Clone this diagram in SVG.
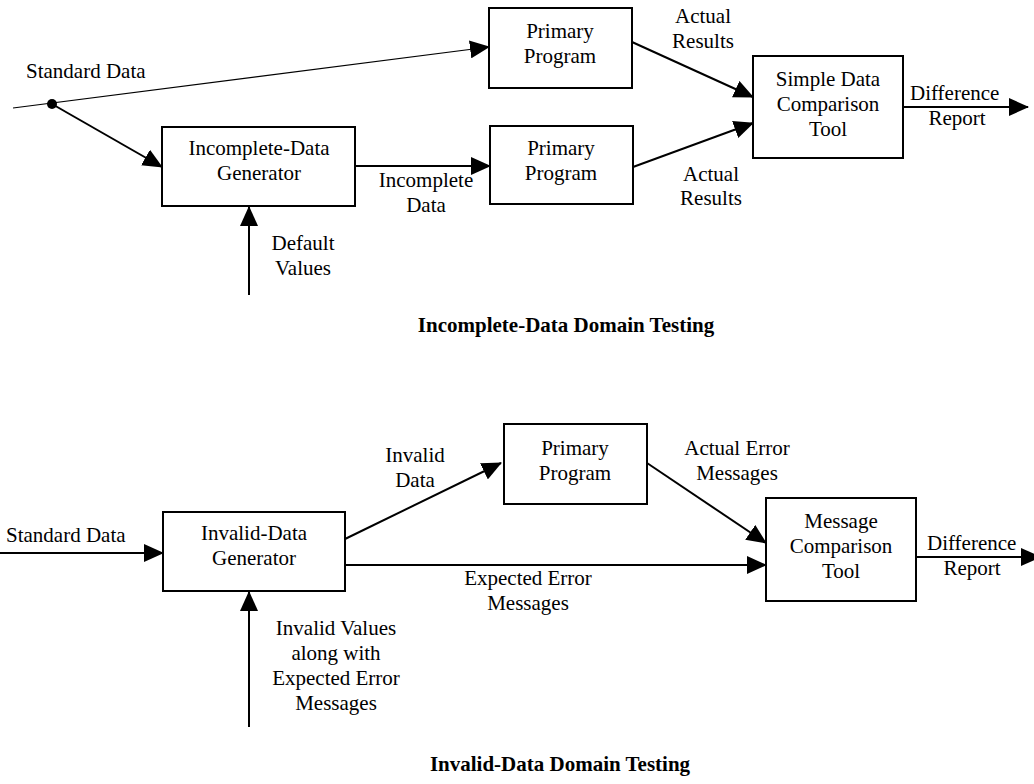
<svg xmlns="http://www.w3.org/2000/svg" width="1034" height="784" viewBox="0 0 1034 784">
  <style>
    .box { fill: #fff; stroke: #000; stroke-width: 2; }
    .lbl { font-family: "Liberation Serif", "Times New Roman", serif; font-size: 21px; fill: #000; }
    .mid { text-anchor: middle; }
    .title { font-family: "Liberation Serif", "Times New Roman", serif; font-size: 21px; font-weight: bold; fill: #000; text-anchor: middle; }
    .wire { fill: none; stroke: #000; stroke-width: 2; }
    .thin { fill: none; stroke: #000; stroke-width: 1.2; }
  </style>
  <defs>
    <marker id="arrow" markerUnits="userSpaceOnUse" markerWidth="20" markerHeight="18" refX="19" refY="9" orient="auto">
      <path d="M0,0 L20,9 L0,18 z" fill="#000"/>
    </marker>
  </defs>
  <rect width="1034" height="784" fill="#fff"/>

  <!-- Incomplete-data domain testing -->
  <g id="connectors-top">
    <line class="thin" x1="13" y1="108" x2="489" y2="47" marker-end="url(#arrow)"/>
    <line class="wire" x1="52" y1="104" x2="162" y2="167" marker-end="url(#arrow)"/>
    <line class="wire" x1="355" y1="166" x2="490" y2="166" marker-end="url(#arrow)"/>
    <line class="wire" x1="249" y1="295" x2="249" y2="207" marker-end="url(#arrow)"/>
    <line class="wire" x1="632" y1="42" x2="753" y2="97" marker-end="url(#arrow)"/>
    <line class="wire" x1="633" y1="167" x2="753" y2="123" marker-end="url(#arrow)"/>
    <line class="wire" x1="903" y1="107" x2="1028" y2="107" marker-end="url(#arrow)"/>
    <circle cx="52" cy="104" r="5" fill="#000"/>
  </g>
  <g id="labels-top">
    <text class="lbl" x="26" y="78">Standard Data</text>
    <text class="lbl mid" x="703" y="23">Actual</text>
    <text class="lbl mid" x="703" y="48">Results</text>
    <text class="lbl mid" x="711" y="181">Actual</text>
    <text class="lbl mid" x="711" y="205">Results</text>
    <text class="lbl mid" x="426" y="187">Incomplete</text>
    <text class="lbl mid" x="426" y="212">Data</text>
    <text class="lbl mid" x="303" y="250">Default</text>
    <text class="lbl mid" x="303" y="275">Values</text>
    <text class="lbl" x="910" y="100">Difference</text>
    <text class="lbl mid" x="957" y="125">Report</text>
  </g>
  <g id="incomplete-data-generator">
    <rect class="box" x="162" y="127" width="193" height="79"/>
    <text class="lbl mid" x="259" y="155">Incomplete-Data</text>
    <text class="lbl mid" x="259" y="180">Generator</text>
  </g>
  <g id="primary-program-1">
    <rect class="box" x="489" y="8" width="143" height="80"/>
    <text class="lbl mid" x="560" y="38">Primary</text>
    <text class="lbl mid" x="560" y="63">Program</text>
  </g>
  <g id="primary-program-2">
    <rect class="box" x="490" y="126" width="143" height="78"/>
    <text class="lbl mid" x="561" y="155">Primary</text>
    <text class="lbl mid" x="561" y="180">Program</text>
  </g>
  <g id="simple-data-comparison-tool">
    <rect class="box" x="753" y="56" width="150" height="102"/>
    <text class="lbl mid" x="828" y="86">Simple Data</text>
    <text class="lbl mid" x="828" y="111">Comparison</text>
    <text class="lbl mid" x="828" y="136">Tool</text>
  </g>
  <text class="title" x="566" y="332">Incomplete-Data Domain Testing</text>

  <!-- Invalid-data domain testing -->
  <g id="connectors-bottom">
    <line class="wire" x1="0" y1="553" x2="163" y2="553" marker-end="url(#arrow)"/>
    <line class="wire" x1="345" y1="539" x2="501" y2="463" marker-end="url(#arrow)"/>
    <line class="wire" x1="345" y1="565" x2="766" y2="565" marker-end="url(#arrow)"/>
    <line class="wire" x1="249" y1="727" x2="249" y2="592" marker-end="url(#arrow)"/>
    <line class="wire" x1="647" y1="463" x2="766" y2="543" marker-end="url(#arrow)"/>
    <line class="wire" x1="916" y1="557" x2="1040" y2="557" marker-end="url(#arrow)"/>
  </g>
  <g id="labels-bottom">
    <text class="lbl" x="6" y="542">Standard Data</text>
    <text class="lbl mid" x="415" y="462">Invalid</text>
    <text class="lbl mid" x="415" y="487">Data</text>
    <text class="lbl mid" x="737" y="455">Actual Error</text>
    <text class="lbl mid" x="737" y="480">Messages</text>
    <text class="lbl mid" x="528" y="585">Expected Error</text>
    <text class="lbl mid" x="528" y="610">Messages</text>
    <text class="lbl mid" x="336" y="635">Invalid Values</text>
    <text class="lbl mid" x="336" y="660">along with</text>
    <text class="lbl mid" x="336" y="685">Expected Error</text>
    <text class="lbl mid" x="336" y="710">Messages</text>
    <text class="lbl" x="927" y="550">Difference</text>
    <text class="lbl mid" x="972" y="575">Report</text>
  </g>
  <g id="invalid-data-generator">
    <rect class="box" x="163" y="512" width="182" height="79"/>
    <text class="lbl mid" x="254" y="540">Invalid-Data</text>
    <text class="lbl mid" x="254" y="565">Generator</text>
  </g>
  <g id="primary-program-3">
    <rect class="box" x="504" y="424" width="143" height="80"/>
    <text class="lbl mid" x="575" y="455">Primary</text>
    <text class="lbl mid" x="575" y="480">Program</text>
  </g>
  <g id="message-comparison-tool">
    <rect class="box" x="766" y="498" width="150" height="103"/>
    <text class="lbl mid" x="841" y="528">Message</text>
    <text class="lbl mid" x="841" y="553">Comparison</text>
    <text class="lbl mid" x="841" y="578">Tool</text>
  </g>
  <text class="title" x="560" y="771">Invalid-Data Domain Testing</text>
</svg>
